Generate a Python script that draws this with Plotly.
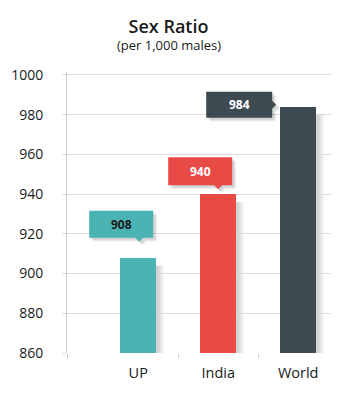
import plotly.graph_objects as go

# Data
categories = ["UP", "India", "World"]
values = [908, 940, 984]
bar_colors = ["#4cb3b4", "#e84a46", "#3d4a52"]
label_text_colors = ["#1a1a1a", "#ffffff", "#ffffff"]
y_ticks = [860, 880, 900, 920, 940, 960, 980, 1000]

# Callout geometry in pixels relative to (bar centre, value):
# box left, right, bottom, top and pointer side
callouts = [
    dict(l=-49, r=15, b=20, t=47, side="bottom", px=1),
    dict(l=-50, r=14, b=9, t=37, side="bottom", px=0),
    dict(l=-92, r=-26, b=-11, t=15, side="right", py=2),
]

xs = list(range(len(categories)))
BAR_W_PX = 36
PX_PER_UNIT = 80.0
bar_width = BAR_W_PX / PX_PER_UNIT
PLOT_L, PLOT_R, FIG_W = 67, 331, 337

fig = go.Figure()

shapes = []

# soft drop shadows on the right side of each bar
for i, v in zip(xs, values):
    for w, a in [(8, 0.04), (6, 0.05), (4, 0.06), (2, 0.06)]:
        shapes.append(dict(
            type="rect", xref="x", yref="y", layer="below",
            xsizemode="pixel", xanchor=i,
            x0=BAR_W_PX / 2, x1=BAR_W_PX / 2 + w,
            y0=860, y1=v - 4,
            fillcolor=f"rgba(0,0,0,{a})", line=dict(width=0),
        ))

fig.add_trace(go.Bar(
    x=xs, y=values, width=bar_width,
    marker=dict(color=bar_colors, line=dict(width=0)),
    hoverinfo="skip", showlegend=False,
))


def callout_path(c, dx=0, dy=0):
    l, r, b, t = c["l"] + dx, c["r"] + dx, c["b"] + dy, c["t"] + dy
    if c["side"] == "bottom":
        p = c["px"] + dx
        return (f"M {l},{t} L {r},{t} L {r},{b} L {p+4},{b} L {p},{b-4} "
                f"L {p-4},{b} L {l},{b} Z")
    p = c["py"] + dy
    return (f"M {l},{t} L {r},{t} L {r},{p+4} L {r+4},{p} L {r},{p-4} "
            f"L {r},{b} L {l},{b} Z")


annotations = []
for i, v, col, tcol, c in zip(xs, values, bar_colors, label_text_colors, callouts):
    # shadow of the callout box
    for (sx, sy, a) in [(4, -4, 0.05), (3, -3, 0.06), (2, -2, 0.07)]:
        shapes.append(dict(
            type="path", xref="x", yref="y", layer="above",
            xsizemode="pixel", xanchor=i, ysizemode="pixel", yanchor=v,
            path=callout_path(c, sx, sy),
            fillcolor=f"rgba(0,0,0,{a})", line=dict(width=0),
        ))
    shapes.append(dict(
        type="path", xref="x", yref="y", layer="above",
        xsizemode="pixel", xanchor=i, ysizemode="pixel", yanchor=v,
        path=callout_path(c),
        fillcolor=col, line=dict(width=0),
    ))
    annotations.append(dict(
        x=i, y=v, xref="x", yref="y", showarrow=False,
        text=f"<b>{v}</b>",
        xshift=(c["l"] + c["r"]) / 2, yshift=(c["b"] + c["t"]) / 2,
        font=dict(family="Open Sans", size=12, color=tcol),
    ))

# subtitle centred on the figure, not the plot area
annotations.append(dict(
    x=(FIG_W / 2 - PLOT_L) / (PLOT_R - PLOT_L), y=1,
    xref="paper", yref="paper", xanchor="center", yanchor="middle",
    yshift=27, showarrow=False, text="(per 1,000 males)",
    font=dict(family="Open Sans", size=13, color="#1a1a1a"),
))

fig.update_layout(
    width=337, height=400,
    margin=dict(l=PLOT_L, r=FIG_W - PLOT_R, t=72, b=47),
    paper_bgcolor="white", plot_bgcolor="white",
    title=dict(
        text="Sex Ratio", x=0.5, xanchor="center",
        y=1 - 27 / 400, yanchor="middle", yref="container",
        font=dict(family="Open Sans", size=18, color="#1a1a1a", weight=600),
    ),
    shapes=shapes,
    annotations=annotations,
    bargap=0,
)

fig.update_xaxes(
    range=[-0.89, 2.41],
    tickmode="array", tickvals=xs, ticktext=categories,
    ticks="", showgrid=False, zeroline=False,
    showline=False,
    tickfont=dict(family="Open Sans", size=14.5, color="#1a1a1a"),
    ticklabelstandoff=9,
    minor=dict(tickmode="array", tickvals=[-0.885, 0.5, 1.5], ticks="outside",
               ticklen=5, tickcolor="#d0d0d0", tickwidth=1, showgrid=False),
)
fig.update_yaxes(
    range=[860, 1001.5],
    tickmode="array", tickvals=y_ticks,
    showgrid=True, gridcolor="#dcdcdc", gridwidth=1,
    zeroline=False,
    showline=True, linecolor="#d0d0d0", linewidth=1,
    ticks="outside", ticklen=4, tickcolor="#dcdcdc",
    tickfont=dict(family="Open Sans", size=14, color="#1a1a1a"),
    ticklabelstandoff=16,
)

fig.write_html("out.html")
